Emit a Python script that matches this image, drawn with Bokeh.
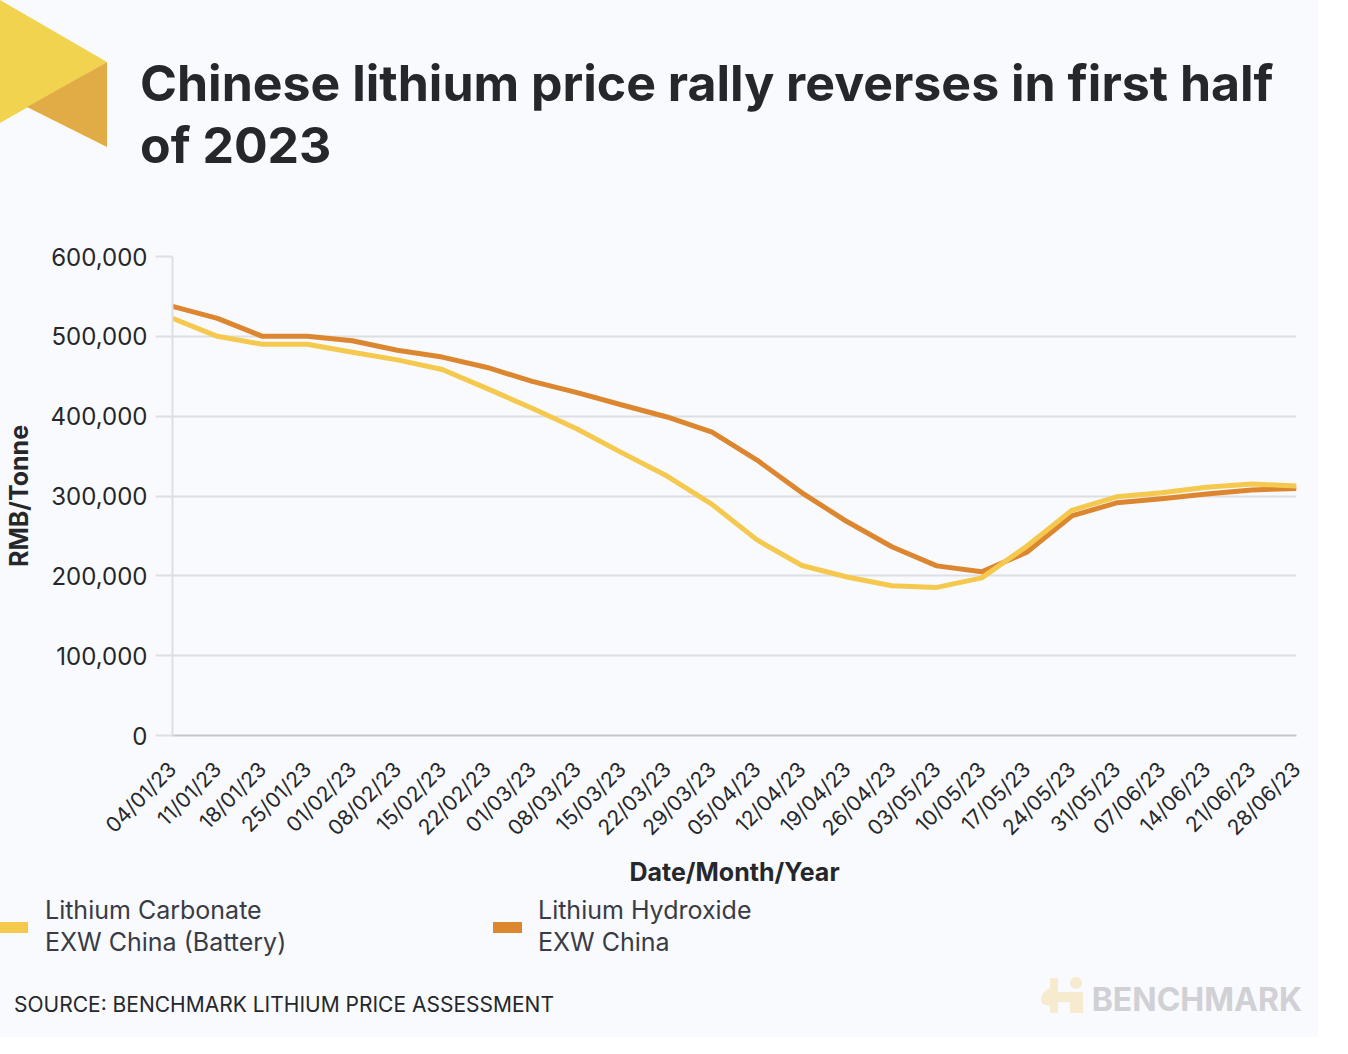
import math
from bokeh.plotting import figure
from bokeh.layouts import column
from bokeh.models import Range1d, FixedTicker, NumeralTickFormatter, Div
from bokeh.embed import file_html
from bokeh.resources import INLINE

# ---------------- data ----------------
dates = ["04/01/23", "11/01/23", "18/01/23", "25/01/23", "01/02/23", "08/02/23",
         "15/02/23", "22/02/23", "01/03/23", "08/03/23", "15/03/23", "22/03/23",
         "29/03/23", "05/04/23", "12/04/23", "19/04/23", "26/04/23", "03/05/23",
         "10/05/23", "17/05/23", "24/05/23", "31/05/23", "07/06/23", "14/06/23",
         "21/06/23", "28/06/23"]

carbonate = [522500, 500000, 490000, 490000, 480000, 470500, 458500, 434500,
             410000, 384000, 354000, 325000, 289500, 245000, 213000, 198500,
             187500, 185500, 197500, 237000, 282000, 299000, 304000, 311000,
             315000, 312500]

hydroxide = [537500, 522500, 500000, 500000, 494500, 482500, 474000, 461000,
             443500, 429500, 414000, 399000, 380000, 345000, 304000, 268000,
             236500, 212500, 205000, 229500, 275000, 291500, 296500, 302500,
             307500, 309500]

y_ticks = [0, 100000, 200000, 300000, 400000, 500000, 600000]

title_lines = ["Chinese lithium price rally reverses in first half", "of 2023"]
legend_carbonate = ["Lithium Carbonate", "EXW China (Battery)"]
legend_hydroxide = ["Lithium Hydroxide", "EXW China"]
y_label = "RMB/Tonne"
x_label = "Date/Month/Year"
source_text = "SOURCE: BENCHMARK LITHIUM PRICE ASSESSMENT"
brand_text = "BENCHMARK"

# ---------------- style ----------------
BG = "#F8FAFE"
YELLOW = "#F5C84E"
ORANGE = "#DD8630"
GRID = "#DEDEE3"
AXIS = "#C6C6CB"
DARK = "#26272B"
TEXT = "#3A3B44"
FONT = "Inter"

W = 1318
H_HEAD, H_MAIN, H_FOOT = 200, 690, 147
ASC = 0.864  # baseline offset from line-box top (line-height 1)


def span(left, baseline, text, size, color, bold=False, right=None):
    top = baseline - ASC * size
    pos = f"left:{left}px;" if right is None else f"right:{right}px;"
    weight = "700" if bold else "400"
    return (f'<span style="position:absolute;{pos}top:{top:.1f}px;'
            f'font-family:{FONT};font-size:{size}px;font-weight:{weight};'
            f'line-height:1;color:{color};white-space:nowrap;">{text}</span>')


def box(html, height):
    return (f'<div style="position:relative;width:{W}px;height:{height}px;'
            f'background:{BG};overflow:visible;margin:0;padding:0;">{html}</div>')


# ---------------- header ----------------
logo_svg = ('<svg style="position:absolute;left:0;top:0" width="108" height="148">'
            '<polygon points="0,0 107,62 0,123" fill="#F2D350"/>'
            '<polygon points="27,107 107,62 107,147" fill="#E1AC45"/></svg>')
head_html = (logo_svg
             + span(140, 101, title_lines[0], 50, DARK, bold=True)
             + span(140, 163, title_lines[1], 50, DARK, bold=True))
head = Div(text=box(head_html, H_HEAD), width=W, height=H_HEAD, margin=0,
           styles={"background-color": BG})

# ---------------- main chart ----------------
p = figure(width=W, height=H_MAIN, output_backend="svg", toolbar_location=None,
           x_range=Range1d(0, len(dates) - 1), y_range=Range1d(0, 600000),
           min_border_left=172, min_border_right=22,
           min_border_top=56, min_border_bottom=153,
           background_fill_color=BG, border_fill_color=BG,
           outline_line_color=None, margin=0)

xs = list(range(len(dates)))
p.line(xs, hydroxide, line_color=ORANGE, line_width=5, line_join="round")
p.line(xs, carbonate, line_color=YELLOW, line_width=5, line_join="round")

xa = p.xaxis[0]
xa.ticker = FixedTicker(ticks=xs)
xa.major_label_overrides = {i: d for i, d in enumerate(dates)}
xa.major_label_orientation = math.pi / 4
xa.major_label_text_font = FONT
xa.major_label_text_font_size = "21px"
xa.major_label_text_color = DARK
xa.major_label_standoff = 24
xa.axis_line_color = AXIS
xa.axis_line_width = 2
xa.major_tick_line_color = None
xa.minor_tick_line_color = None
xa.axis_label = x_label
xa.axis_label_text_font = FONT
xa.axis_label_text_font_size = "25px"
xa.axis_label_text_font_style = "bold"
xa.axis_label_text_color = DARK
xa.axis_label_standoff = 5
p.xgrid.visible = False

ya = p.yaxis[0]
ya.ticker = FixedTicker(ticks=y_ticks)
ya.formatter = NumeralTickFormatter(format="0,0")
ya.major_label_text_font = FONT
ya.major_label_text_font_size = "24px"
ya.major_label_text_color = DARK
ya.major_label_standoff = 8
ya.axis_line_color = GRID
ya.axis_line_width = 2
ya.major_tick_in = 0
ya.major_tick_out = 17
ya.major_tick_line_color = GRID
ya.major_tick_line_width = 2
ya.minor_tick_line_color = None
ya.axis_label = y_label
ya.axis_label_text_font = FONT
ya.axis_label_text_font_size = "25px"
ya.axis_label_text_font_style = "bold"
ya.axis_label_text_color = DARK
ya.axis_label_standoff = 14
p.ygrid.grid_line_color = GRID
p.ygrid.grid_line_width = 2

# ---------------- footer ----------------
T0 = H_HEAD + H_MAIN  # footer top in page px


def swatch(left, width, color):
    return (f'<span style="position:absolute;left:{left}px;top:{922 - T0}px;'
            f'width:{width}px;height:11px;background:{color};"></span>')


icon_svg = (f'<svg style="position:absolute;left:1038px;top:{974 - T0}px" width="48" height="42">'
            '<g fill="#F6EBCF">'
            '<rect x="12" y="4" width="8" height="35"/>'
            '<path d="M12 14 Q0 20 4 30 L12 32 Z"/>'
            '<rect x="20" y="18" width="12" height="10"/>'
            '<rect x="32" y="18" width="13" height="21"/>'
            '<circle cx="38" cy="9" r="6"/></g></svg>')

foot_html = (swatch(0, 28, YELLOW) + swatch(493, 29, ORANGE)
             + span(45, 920 - T0, legend_carbonate[0], 25, TEXT)
             + span(45, 952 - T0, legend_carbonate[1], 25, TEXT)
             + span(538, 920 - T0, legend_hydroxide[0], 25, TEXT)
             + span(538, 952 - T0, legend_hydroxide[1], 25, TEXT)
             + span(14, 1012 - T0, source_text, 21, DARK)
             + icon_svg
             + span(0, 1012 - T0, brand_text, 32, "#D0D0D5", bold=True, right=W - 1302))
foot = Div(text=box(foot_html, H_FOOT), width=W, height=H_FOOT, margin=0,
           styles={"background-color": BG})

layout = column(head, p, foot, spacing=0, styles={"background-color": BG})
open("out.html", "w").write(file_html(layout, INLINE))
